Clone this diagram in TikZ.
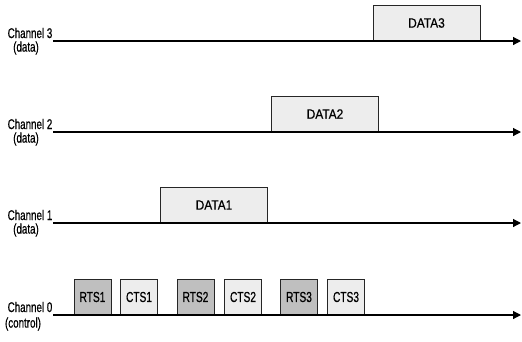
\documentclass[tikz,border=0pt]{standalone}
\usepackage{fontspec}
\setmainfont{Liberation Sans}
\newfontfamily\narrowfont[FakeStretch=0.7,FakeBold=0.6]{Liberation Sans}
\newfontfamily\boxfont[FakeStretch=0.88,FakeBold=0.6]{Liberation Sans}
\usetikzlibrary{arrows.meta}
\begin{document}
\begin{tikzpicture}[x=1pt,y=-1pt,
  chline/.style={line width=1.2pt,-{Triangle[length=8pt,width=8pt]}},
  chlabel/.style={font=\narrowfont\fontsize{14}{14}\selectfont,inner sep=0pt},
  databox/.style={draw=black!85,line width=0.9pt,fill=black!7,minimum width=107pt,minimum height=36pt,inner sep=0pt,font=\boxfont\fontsize{13.5}{13.5}\selectfont},
  rtsbox/.style={draw=black!85,line width=0.9pt,fill=black!25,minimum width=37pt,minimum height=36pt,inner sep=0pt,font=\narrowfont\fontsize{14.5}{14.5}\selectfont},
  ctsbox/.style={draw=black!85,line width=0.9pt,fill=black!7,minimum width=37pt,minimum height=36pt,inner sep=0pt,font=\narrowfont\fontsize{14.5}{14.5}\selectfont}]
\useasboundingbox (0,0) rectangle (522,341);
% channel lines
\coordinate (s3) at (53,41);  \coordinate (e3) at (521,41);
\coordinate (s2) at (53,132); \coordinate (e2) at (521,132);
\coordinate (s1) at (53,223); \coordinate (e1) at (521,223);
\coordinate (s0) at (53,315); \coordinate (e0) at (521,315);
% boxes
\node[databox] (d3) at (426.5,23) {DATA3};
\node[databox] (d2) at (325,114) {DATA2};
\node[databox] (d1) at (214,205) {DATA1};
\node[rtsbox] (r1) at (92.5,297) {RTS1};
\node[ctsbox] (c1) at (139,297) {CTS1};
\node[rtsbox] (r2) at (195.5,297) {RTS2};
\node[ctsbox] (c2) at (243,297) {CTS2};
\node[rtsbox] (r3) at (299,297) {RTS3};
\node[ctsbox] (c3) at (346,297) {CTS3};
\draw[chline] (s3) -- (e3);
\draw[chline] (s2) -- (e2);
\draw[chline] (s1) -- (e1);
\draw[chline] (s0) -- (e0);
% labels
\node[chlabel] (l3a) at (30,33) {Channel 3};
\node[chlabel] (l3b) at (26,48) {(data)};
\node[chlabel] (l2a) at (30,124) {Channel 2};
\node[chlabel] (l2b) at (26,139) {(data)};
\node[chlabel] (l1a) at (30,215) {Channel 1};
\node[chlabel] (l1b) at (26,230) {(data)};
\node[chlabel] (l0a) at (30,307) {Channel 0};
\node[chlabel] (l0b) at (23,324) {(control)};
\end{tikzpicture}
\end{document}
